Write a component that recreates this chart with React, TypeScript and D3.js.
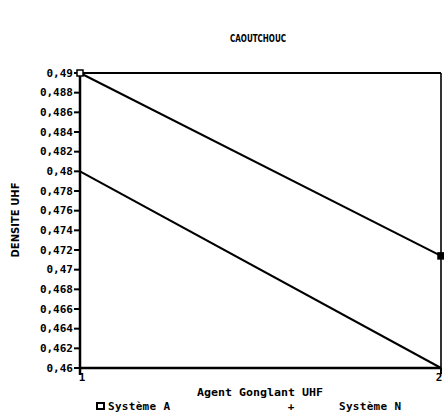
import { useEffect, useRef } from 'react';
import * as d3 from 'd3';

const xCategories = [1, 2];
const systemeA = [0.49, 0.4714];
const systemeN = [0.48, 0.46];
const yTicks = [0.46, 0.462, 0.464, 0.466, 0.468, 0.47, 0.472, 0.474, 0.476, 0.478, 0.48, 0.482, 0.484, 0.486, 0.488, 0.49];

const W = 444;
const H = 418;
const FONT = '"DejaVu Sans Mono", monospace';

export default function App() {
  const svgRef = useRef<SVGSVGElement>(null);

  useEffect(() => {
    if (!svgRef.current) return;
    const svg = d3.select(svgRef.current);
    svg.selectAll('*').remove();

    const m = { top: 73, right: 3, bottom: 50, left: 80 };
    const x = d3.scaleLinear().domain([1, 2]).range([m.left, W - m.right]);
    const y = d3.scaleLinear().domain([0.46, 0.49]).range([H - m.bottom, m.top]);

    svg.append('rect').attr('width', W).attr('height', H).attr('fill', '#fff');

    // cadre haut + droit
    svg.append('line')
      .attr('x1', x(1)).attr('x2', x(2)).attr('y1', y(0.49)).attr('y2', y(0.49))
      .attr('stroke', '#000').attr('stroke-width', 2);
    svg.append('line')
      .attr('x1', x(2)).attr('x2', x(2)).attr('y1', y(0.49)).attr('y2', y(0.46))
      .attr('stroke', '#000').attr('stroke-width', 1.6);

    // axe Y
    const yAxis = svg.append('g');
    yAxis.append('line')
      .attr('x1', x(1)).attr('x2', x(1)).attr('y1', y(0.49)).attr('y2', y(0.46) + 7)
      .attr('stroke', '#000').attr('stroke-width', 2.5);
    yAxis.selectAll('line.tick')
      .data(yTicks)
      .join('line')
      .attr('class', 'tick')
      .attr('x1', x(1) - 6).attr('x2', x(1))
      .attr('y1', (d) => y(d)).attr('y2', (d) => y(d))
      .attr('stroke', '#000').attr('stroke-width', 2);
    yAxis.selectAll('text')
      .data(yTicks)
      .join('text')
      .attr('x', x(1) - 7)
      .attr('y', (d) => y(d))
      .attr('dy', '0.32em')
      .attr('text-anchor', 'end')
      .attr('font-family', FONT)
      .attr('font-size', 11)
      .attr('font-weight', 'bold')
      .text((d) => String(+d.toFixed(3)).replace('.', ','));

    // axe X
    svg.append('line')
      .attr('x1', x(1)).attr('x2', x(2)).attr('y1', y(0.46)).attr('y2', y(0.46))
      .attr('stroke', '#000').attr('stroke-width', 2.5);
    svg.selectAll('line.xtick')
      .data(xCategories)
      .join('line')
      .attr('class', 'xtick')
      .attr('x1', (d) => x(d)).attr('x2', (d) => x(d))
      .attr('y1', y(0.46)).attr('y2', y(0.46) + 6)
      .attr('stroke', '#000').attr('stroke-width', 2);
    svg.selectAll('text.xlab')
      .data(xCategories)
      .join('text')
      .attr('class', 'xlab')
      .attr('x', (d) => x(d) + (d === 2 ? -2 : 2))
      .attr('y', y(0.46) + 13)
      .attr('text-anchor', 'middle')
      .attr('font-family', FONT)
      .attr('font-size', 11)
      .attr('font-weight', 'bold')
      .text((d) => d);

    // séries
    const line = d3.line<number>().x((_, i) => x(xCategories[i])).y((d) => y(d));
    [systemeA, systemeN].forEach((s) => {
      svg.append('path')
        .attr('d', line(s))
        .attr('fill', 'none')
        .attr('stroke', '#000')
        .attr('stroke-width', 2);
    });

    // marqueurs Système A
    svg.selectAll('rect.mk')
      .data(systemeA)
      .join('rect')
      .attr('class', 'mk')
      .attr('x', (_, i) => x(xCategories[i]) - 3)
      .attr('y', (d) => y(d) - 3)
      .attr('width', 6).attr('height', 6)
      .attr('fill', (_, i) => (i === 0 ? '#fff' : '#000'))
      .attr('stroke', '#000').attr('stroke-width', 1.5);

    // titres
    svg.append('text')
      .attr('x', 258).attr('y', 42)
      .attr('text-anchor', 'middle')
      .attr('font-family', '"Liberation Sans Narrow", "DejaVu Sans Condensed", sans-serif')
      .attr('font-size', 11).attr('font-weight', 'bold')
      .attr('textLength', 56).attr('lengthAdjust', 'spacingAndGlyphs')
      .text('CAOUTCHOUC');

    svg.append('text')
      .attr('transform', 'translate(19,220) rotate(-90)')
      .attr('text-anchor', 'middle')
      .attr('font-family', '"Liberation Sans Narrow", "DejaVu Sans Condensed", sans-serif')
      .attr('font-size', 11).attr('font-weight', 'bold')
      .attr('textLength', 75).attr('lengthAdjust', 'spacingAndGlyphs')
      .text('DENSITE UHF');

    svg.append('text')
      .attr('x', 260).attr('y', 396)
      .attr('text-anchor', 'middle')
      .attr('font-family', FONT)
      .attr('font-size', 11).attr('font-weight', 'bold')
      .attr('textLength', 126).attr('lengthAdjust', 'spacingAndGlyphs')
      .text('Agent Gonglant UHF');

    // légende
    const lg = svg.append('g').attr('font-family', FONT).attr('font-size', 11).attr('font-weight', 'bold');
    lg.append('rect')
      .attr('x', 97).attr('y', 403).attr('width', 7).attr('height', 6)
      .attr('fill', '#fff').attr('stroke', '#000').attr('stroke-width', 2);
    lg.append('text').attr('x', 108).attr('y', 410).attr('textLength', 62).text('Système A');
    lg.append('text').attr('x', 291).attr('y', 410).attr('text-anchor', 'middle').text('+');
    lg.append('text').attr('x', 339).attr('y', 410).attr('textLength', 62).text('Système N');
  }, []);

  return (
    <svg ref={svgRef} width={W} height={H} style={{ position: 'absolute', left: 0, top: 0 }} />
  );
}
